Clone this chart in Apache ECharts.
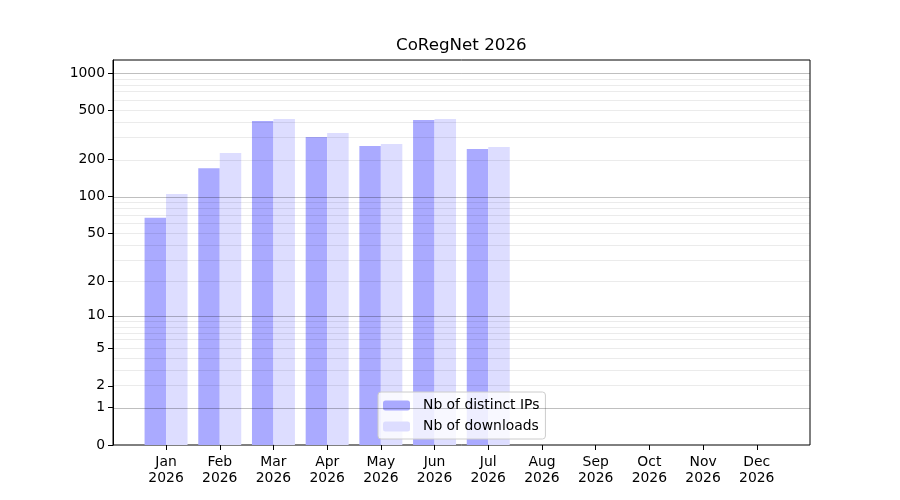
<!DOCTYPE html>
<html>
<head>
<meta charset="utf-8">
<script src="https://cdn.jsdelivr.net/npm/echarts@6/dist/echarts.min.js"></script>
<style>
  html, body { margin: 0; padding: 0; background: #fff; }
  #main { width: 900px; height: 500px; }
</style>
</head>
<body>
<div id="main"></div>
<script>
// donnees du graphique
const months = ['Jan', 'Feb', 'Mar', 'Apr', 'May', 'Jun', 'Jul', 'Aug', 'Sep', 'Oct', 'Nov', 'Dec'];
const year = '2026';
const distinctIPs = [67, 170, 409, 304, 257, 417, 243, 0, 0, 0, 0, 0];
const downloads = [105, 225, 425, 327, 267, 425, 252, 0, 0, 0, 0, 0];
const yTicks = [0, 1, 2, 5, 10, 20, 50, 100, 200, 500, 1000];
const majorGrid = [1, 10, 100, 1000];
const minorGrid = [2, 3, 4, 5, 6, 7, 8, 9, 20, 30, 40, 50, 60, 70, 80, 90, 200, 300, 400, 500, 600, 700, 800, 900];
const yMax = 1273;

// echelle log(1 + x)
const symlog = v => Math.log10(1 + v);
const unsymlog = t => Math.round(Math.pow(10, t) - 1);

const font = 'DejaVu Sans';
const chart = echarts.init(document.getElementById('main'));

chart.setOption({
  animation: false,
  title: {
    text: 'CoRegNet ' + year,
    left: 396, top: 37,
    padding: 0,
    textStyle: { fontFamily: font, fontSize: 16.7, fontWeight: 'normal', color: '#000' }
  },
  legend: {
    data: ['Nb of distinct IPs', 'Nb of downloads'],
    orient: 'vertical',
    left: 378, top: 392,
    itemWidth: 27, itemHeight: 10, itemGap: 6,
    padding: [6, 6, 5, 5],
    backgroundColor: 'rgba(255,255,255,0.8)',
    borderColor: '#cccccc', borderWidth: 1, borderRadius: 3,
    textStyle: { fontFamily: font, fontSize: 13.9, color: '#000', padding: [0, 0, 0, 8], lineHeight: 15 }
  },
  grid: [
    { left: 113, right: 90, top: 60, bottom: 55, show: true, borderColor: '#000', borderWidth: 1, backgroundColor: 'transparent' },
    { left: 139.2, right: 116.4, top: 60, bottom: 55 }
  ],
  xAxis: [
    { type: 'value', gridIndex: 0, min: 0, max: 1, show: false },
    {
      type: 'category', gridIndex: 1, data: months,
      axisLine: { show: false },
      axisTick: { show: true, alignWithLabel: true, length: 5, lineStyle: { color: '#000' } },
      axisLabel: {
        interval: 0, margin: 9, color: '#000', fontFamily: font, fontSize: 13.9, lineHeight: 16,
        formatter: m => m + '\n' + year
      }
    }
  ],
  yAxis: [
    {
      type: 'value', gridIndex: 0, min: 0, max: symlog(yMax),
      axisLine: { show: true, lineStyle: { color: '#000' } },
      axisTick: { show: true, length: 5, customValues: yTicks.map(symlog), lineStyle: { color: '#000' } },
      axisLabel: {
        customValues: yTicks.map(symlog), margin: 8, color: '#000', fontFamily: font, fontSize: 13.9,
        formatter: v => String(unsymlog(v))
      },
      splitLine: { show: false }
    },
    { type: 'value', gridIndex: 1, min: 0, max: symlog(yMax), show: false }
  ],
  series: [
    {
      name: 'Nb of distinct IPs', type: 'bar', xAxisIndex: 1, yAxisIndex: 1,
      data: distinctIPs.map(symlog),
      barGap: '0%', barCategoryGap: '20%',
      itemStyle: { color: '#aaaaff' }
    },
    {
      name: 'Nb of downloads', type: 'bar', xAxisIndex: 1, yAxisIndex: 1,
      data: downloads.map(symlog),
      barGap: '0%', barCategoryGap: '20%',
      itemStyle: { color: '#ddddff' }
    },
    {
      // lignes de grille (majeures + mineures) par-dessus les barres
      type: 'line', xAxisIndex: 0, yAxisIndex: 0, data: [], z: 5,
      markLine: {
        silent: true, symbol: ['none', 'none'], label: { show: false },
        data: minorGrid.map(v => ({ yAxis: symlog(v), lineStyle: { color: 'rgba(0,0,0,0.08)', width: 1, type: 'solid' } }))
          .concat(majorGrid.map(v => ({ yAxis: symlog(v), lineStyle: { color: 'rgba(0,0,0,0.25)', width: 1, type: 'solid' } })))
      }
    }
  ]
});
</script>
</body>
</html>
